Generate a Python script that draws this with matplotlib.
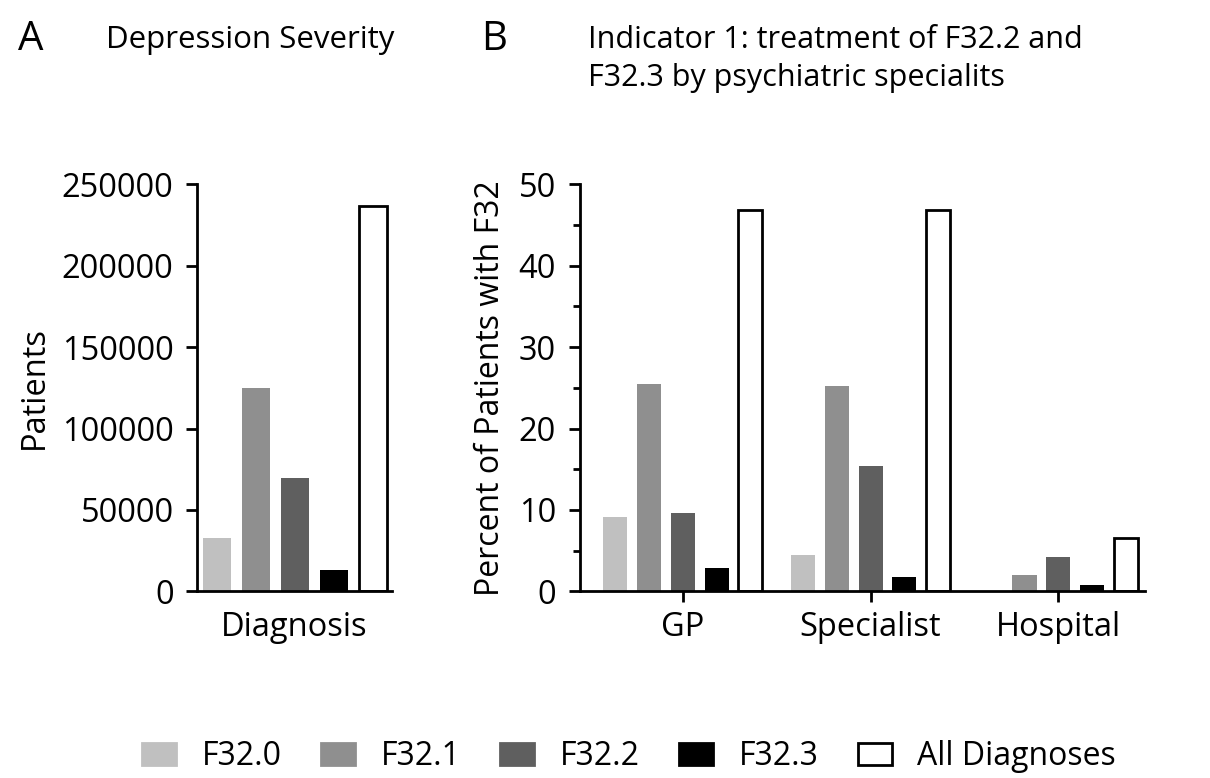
import matplotlib
matplotlib.use('Agg')
import matplotlib.pyplot as plt
from matplotlib.patches import Patch
import numpy as np

plt.rcParams['font.family'] = ['Open Sans', 'DejaVu Sans']

series = ['F32.0', 'F32.1', 'F32.2', 'F32.3', 'All Diagnoses']
colors = ['#c0c0c0', '#8f8f8f', '#5f5f5f', '#000000', '#ffffff']

# panel A: patient counts per diagnosis
patients = [32800, 125200, 69800, 12900, 237000]

# panel B: percent of patients with F32, per setting
settings = ['GP', 'Specialist', 'Hospital']
percent = {
    'F32.0': [9.1, 4.5, 0.0],
    'F32.1': [25.5, 25.2, 2.0],
    'F32.2': [9.6, 15.4, 4.2],
    'F32.3': [2.8, 1.8, 0.8],
    'All Diagnoses': [46.8, 46.8, 6.6],
}

fig = plt.figure(figsize=(12.1, 7.78), dpi=100)
axA = fig.add_axes([0.163, 0.240, 0.161, 0.523])
axB = fig.add_axes([0.479, 0.240, 0.467, 0.523])

for ax in (axA, axB):
    for s in ('top', 'right'):
        ax.spines[s].set_visible(False)
    for s in ('left', 'bottom'):
        ax.spines[s].set_linewidth(2)
    ax.tick_params(axis='both', which='both', width=2, direction='out')
    ax.tick_params(axis='both', which='major', length=8, labelsize=23.5)
    ax.tick_params(axis='y', which='major', pad=9)
    ax.tick_params(axis='y', which='minor', length=5)

# panel A
for i, c in enumerate(colors):
    edge = 'black' if c == '#ffffff' else 'none'
    axA.bar(i - 2, patients[i], width=0.72, color=c, edgecolor=edge, linewidth=2)
axA.set_xlim(-2.5, 2.5)
axA.set_ylim(0, 250000)
axA.set_yticks(np.arange(0, 250001, 50000))
axA.set_xticks([0])
axA.set_xticklabels(['Diagnosis'])
axA.tick_params(axis='x', length=0, pad=14)
axA.set_ylabel('Patients', fontsize=23.5, labelpad=8)

# panel B
x = np.arange(len(settings))
for i, (name, c) in enumerate(zip(series, colors)):
    edge = 'black' if c == '#ffffff' else 'none'
    axB.bar(x + (i - 2) * 0.18, percent[name], width=0.128, color=c,
            edgecolor=edge, linewidth=2)
axB.set_xlim(-0.55, 2.46)
axB.set_ylim(0, 50)
axB.set_yticks(np.arange(0, 51, 10))
axB.set_yticks(np.arange(5, 50, 10), minor=True)
axB.set_xticks(x)
axB.set_xticklabels(settings)
axB.tick_params(axis='x', pad=6)
axB.set_ylabel('Percent of Patients with F32', fontsize=23, labelpad=8)

# panel letters and titles
fig.text(0.015, 0.949, 'A', fontsize=29, va='center')
fig.text(0.088, 0.949, 'Depression Severity', fontsize=22.5, va='center')
fig.text(0.398, 0.949, 'B', fontsize=29, va='center')
fig.text(0.486, 0.949, 'Indicator 1: treatment of F32.2 and', fontsize=22, va='center')
fig.text(0.486, 0.900, 'F32.3 by psychiatric specialits', fontsize=22, va='center')

handles = [Patch(facecolor=c, edgecolor='black' if c == '#ffffff' else c, linewidth=2)
           for c in colors]
fig.legend(handles, series, loc='center', bbox_to_anchor=(0.52, 0.027), ncol=5,
           frameon=False, fontsize=23, handlelength=1.05, handleheight=0.67,
           columnspacing=1.25, handletextpad=0.8, borderpad=0, borderaxespad=0)

fig.savefig('out.png', dpi=100)
